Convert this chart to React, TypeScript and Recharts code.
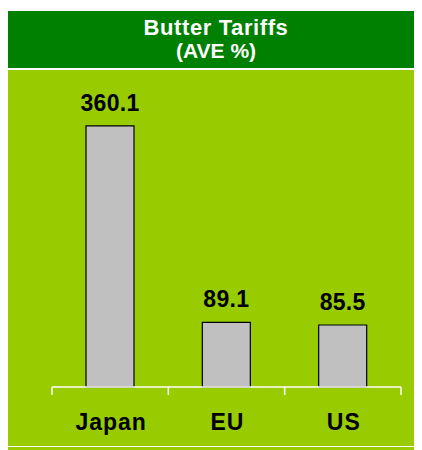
import React from "react";
import { BarChart, Bar, XAxis, YAxis, LabelList } from "recharts";

const categories = ["Japan", "EU", "US"];
const tariffs = [360.1, 89.1, 85.5];
const titleLines = ["Butter Tariffs", "(AVE %)"];

const FONT = '"Liberation Sans", Arial, sans-serif';
const CHART_W = 414;
const CHART_H = 376;
const MARGIN = { top: 27, right: 21, bottom: 0, left: 44 };
// half of one category band, used when the tick payload has no offset
const HALF_BAND = (CHART_W - MARGIN.left - MARGIN.right) / categories.length / 2;

const data = categories.map((name, i) => ({ name, value: tariffs[i] }));

function CategoryTick(props: any) {
  const { x, y, payload, index } = props;
  const half = payload && payload.offset > 0 ? payload.offset : HALF_BAND;
  const last = index === categories.length - 1;
  return (
    <g>
      <line x1={x - half} y1={y} x2={x - half} y2={y + 8} stroke="#ffffff" strokeWidth={1.5} />
      {last && (
        <line x1={x + half} y1={y} x2={x + half} y2={y + 8} stroke="#ffffff" strokeWidth={1.5} />
      )}
      <text
        x={x + 1}
        y={y + 43}
        textAnchor="middle"
        fontFamily={FONT}
        fontSize={23}
        fontWeight="bold"
        letterSpacing={1}
        fill="#000000"
      >
        {payload.value}
      </text>
    </g>
  );
}

export default function App() {
  return (
    <div style={{ width: CHART_W, height: 442, fontFamily: FONT }}>
      <svg width={CHART_W} height={57} style={{ display: "block", marginTop: 3 }}>
        <rect x={0} y={0} width={CHART_W} height={57} fill="#008000" />
        {titleLines.map((t, i) => (
          <text
            key={t}
            x={CHART_W / 2 + 1}
            y={24 + i * 23}
            textAnchor="middle"
            fontFamily={FONT}
            fontSize={i === 0 ? 22 : 21}
            fontWeight="bold"
            letterSpacing={i === 0 ? 0.6 : 0}
            fill="#ffffff"
          >
            {t}
          </text>
        ))}
      </svg>
      <div style={{ height: 2 }} />
      <div style={{ width: CHART_W, height: CHART_H, background: "#99CC00" }}>
        <BarChart width={CHART_W} height={CHART_H} data={data} margin={MARGIN}>
          <YAxis hide domain={[0, 400]} />
          <XAxis
            dataKey="name"
            height={59}
            interval={0}
            tickSize={0}
            tickMargin={0}
            tickLine={false}
            axisLine={{ stroke: "#ffffff", strokeWidth: 1.5 }}
            tick={<CategoryTick />}
          />
          <Bar
            dataKey="value"
            fill="#C0C0C0"
            stroke="#000000"
            strokeWidth={1.2}
            barSize={48}
            isAnimationActive={false}
          >
            <LabelList
              dataKey="value"
              position="top"
              offset={15}
              fill="#000000"
              fontFamily={FONT}
              fontSize={23}
              fontWeight="bold"
              letterSpacing={0.3}
            />
          </Bar>
        </BarChart>
      </div>
      <div style={{ height: 1 }} />
      <div style={{ width: CHART_W, height: 3, background: "#99CC00" }} />
    </div>
  );
}
